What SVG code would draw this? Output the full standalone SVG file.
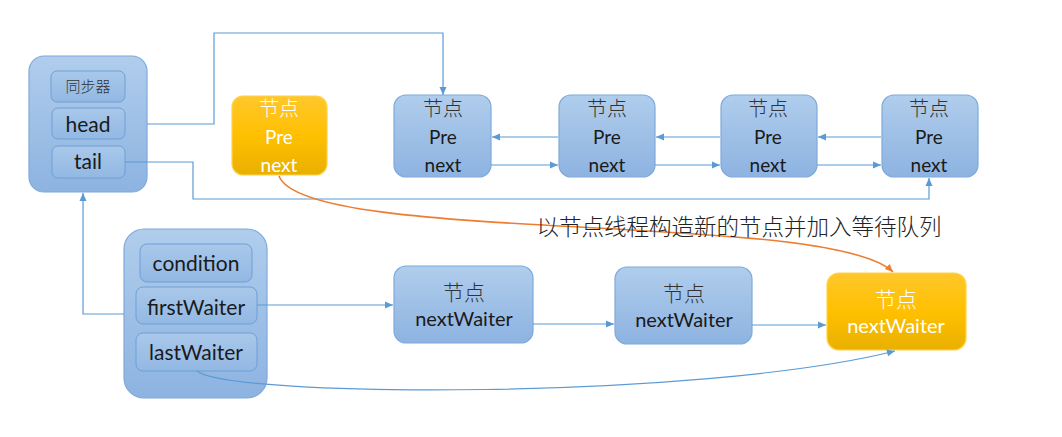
<svg xmlns="http://www.w3.org/2000/svg" width="1062" height="437" viewBox="0 0 1062 437">
<defs>
<linearGradient id="gb" x1="0" y1="0" x2="0" y2="1"><stop offset="0" stop-color="#b0cdec"/><stop offset="1" stop-color="#8db3e1"/></linearGradient>
<linearGradient id="gi" x1="0" y1="0" x2="0" y2="1"><stop offset="0" stop-color="#a9c8ea"/><stop offset="1" stop-color="#92b8e3"/></linearGradient>
<linearGradient id="gy" x1="0" y1="0" x2="0" y2="1"><stop offset="0" stop-color="#ffc72c"/><stop offset="0.5" stop-color="#ffc000"/><stop offset="1" stop-color="#e9b000"/></linearGradient>
<marker id="ab" markerUnits="userSpaceOnUse" markerWidth="10" markerHeight="10" refX="9" refY="5" orient="auto"><path d="M1,1.5 L9,5 L1,8.5 Z" fill="#5b9bd5"/></marker>
<marker id="ao" markerUnits="userSpaceOnUse" markerWidth="10" markerHeight="10" refX="9" refY="5" orient="auto"><path d="M1,1.5 L9,5 L1,8.5 Z" fill="#ed7d31"/></marker>
</defs>
<style>
.nb{fill:url(#gb);stroke:#7eaadb;stroke-width:1.2}
.ib{fill:url(#gi);stroke:#6f9fd6;stroke-width:1}
.ny{fill:url(#gy);stroke:#ffd24d;stroke-width:1.2}
.c{fill:none;stroke:#5b9bd5;stroke-width:1.2}
.t{font-family:Lato,"Noto Sans CJK SC",sans-serif;fill:#1a1a1a;text-anchor:middle}
.cj{font-family:"Noto Sans CJK SC",sans-serif;font-weight:300;fill:#333;text-anchor:middle}
.w{fill:#ffffff}
</style>
<g id="sync">
<rect class="nb" x="29" y="56" width="118" height="136" rx="15"/>
<rect class="ib" x="51" y="71" width="74" height="31" rx="6"/>
<text class="cj" x="88" y="92" font-size="15" fill="#444">同步器</text>
<rect class="ib" x="52" y="108" width="73" height="31" rx="6"/>
<text class="t" x="88" y="132" font-size="21">head</text>
<rect class="ib" x="52" y="146" width="73" height="32" rx="6"/>
<text class="t" x="88" y="169" font-size="21">tail</text>
</g>
<g id="node-new">
<rect class="ny" x="232" y="96" width="95" height="79" rx="11"/>
<text class="cj w" x="279" y="116" font-size="20">节点</text>
<text class="t w" x="279" y="144" font-size="19">Pre</text>
<text class="t w" x="279" y="172" font-size="19">next</text>
</g>
<g id="node1">
<rect class="nb" x="394" y="95" width="97" height="82" rx="12"/>
<text class="cj" x="443" y="116" font-size="20">节点</text>
<text class="t" x="443" y="144" font-size="19">Pre</text>
<text class="t" x="443" y="172" font-size="19">next</text>
</g>
<g id="node2">
<rect class="nb" x="559" y="95" width="96" height="82" rx="12"/>
<text class="cj" x="607" y="116" font-size="20">节点</text>
<text class="t" x="607" y="144" font-size="19">Pre</text>
<text class="t" x="607" y="172" font-size="19">next</text>
</g>
<g id="node3">
<rect class="nb" x="721" y="95" width="96" height="82" rx="12"/>
<text class="cj" x="768" y="116" font-size="20">节点</text>
<text class="t" x="768" y="144" font-size="19">Pre</text>
<text class="t" x="768" y="172" font-size="19">next</text>
</g>
<g id="node4">
<rect class="nb" x="882" y="95" width="96" height="82" rx="12"/>
<text class="cj" x="929" y="116" font-size="20">节点</text>
<text class="t" x="929" y="144" font-size="19">Pre</text>
<text class="t" x="929" y="172" font-size="19">next</text>
</g>
<g id="condition">
<rect class="nb" x="124" y="229" width="143" height="169" rx="20"/>
<rect class="ib" x="140" y="244" width="112" height="38" rx="7"/>
<text class="t" x="196" y="271" font-size="21">condition</text>
<rect class="ib" x="136" y="287" width="121" height="37" rx="7"/>
<text class="t" x="196" y="315" font-size="21">firstWaiter</text>
<rect class="ib" x="136" y="333" width="121" height="38" rx="7"/>
<text class="t" x="196" y="360" font-size="21">lastWaiter</text>
</g>
<g id="waiter1">
<rect class="nb" x="394" y="266" width="139" height="77" rx="12"/>
<text class="cj" x="464" y="300" font-size="21">节点</text>
<text class="t" x="464" y="326" font-size="20">nextWaiter</text>
</g>
<g id="waiter2">
<rect class="nb" x="615" y="267" width="137" height="77" rx="12"/>
<text class="cj" x="684" y="301" font-size="21">节点</text>
<text class="t" x="684" y="327" font-size="20">nextWaiter</text>
</g>
<g id="waiter-new">
<rect class="ny" x="827" y="273" width="139" height="77" rx="12"/>
<text class="cj w" x="896" y="307" font-size="21">节点</text>
<text class="t w" x="896" y="333" font-size="20">nextWaiter</text>
</g>
<g id="connectors">
<path class="c" d="M147,124 H214 V33 H443 V95" marker-end="url(#ab)"/>
<path class="c" d="M125,162 H193 V199 H929 V178" marker-end="url(#ab)"/>
<path class="c" d="M558,137 H492" marker-end="url(#ab)"/>
<path class="c" d="M491,165 H558" marker-end="url(#ab)"/>
<path class="c" d="M720,137 H656" marker-end="url(#ab)"/>
<path class="c" d="M655,165 H720" marker-end="url(#ab)"/>
<path class="c" d="M881,137 H818" marker-end="url(#ab)"/>
<path class="c" d="M817,165 H881" marker-end="url(#ab)"/>
<path class="c" d="M124,314 H83 V193" marker-end="url(#ab)"/>
<path class="c" d="M257,305 H393" marker-end="url(#ab)"/>
<path class="c" d="M533,324 H614" marker-end="url(#ab)"/>
<path class="c" d="M752,325 H826" marker-end="url(#ab)"/>
<path class="c" d="M197,371 C230,398 700,400 895,351" marker-end="url(#ab)"/>
<path d="M279,176 C305,245 830,210 893,272" fill="none" stroke="#ed7d31" stroke-width="1.6" marker-end="url(#ao)"/>
</g>
<g id="label">
<text x="739" y="235" font-size="22.5" font-family="'Noto Sans CJK SC',sans-serif" font-weight="300" fill="#222" text-anchor="middle">以节点线程构造新的节点并加入等待队列</text>
</g>
</svg>
